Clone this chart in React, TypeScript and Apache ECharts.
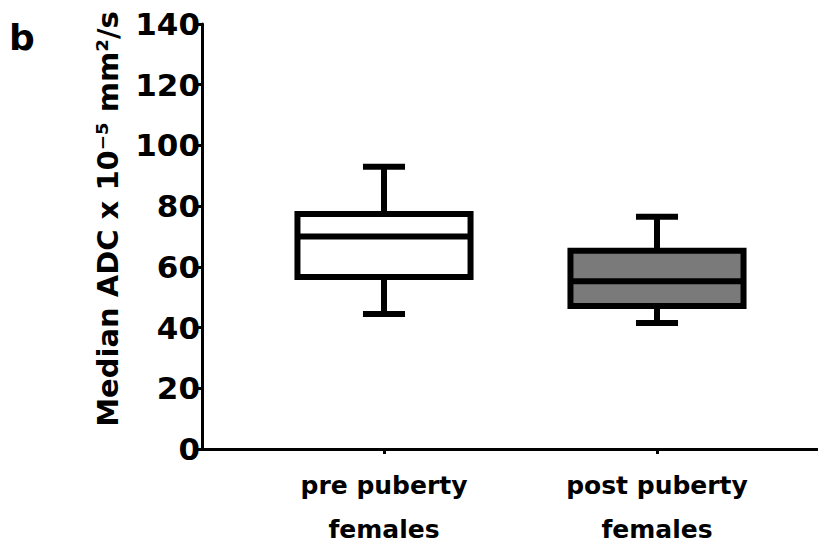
import React, { useEffect, useRef } from "react";
import * as echarts from "echarts";

// ---- data ----
const categories = ["pre puberty\nfemales", "post puberty\nfemales"];
const whiskerMin = [44.5, 41.5];
const quartile1 = [56.7, 47.1];
const medians = [70.0, 55.3];
const quartile3 = [77.4, 65.3];
const whiskerMax = [93.0, 76.5];
const yTicks = [0, 20, 40, 60, 80, 100, 120, 140];

// ---- styles ----
const BOX_FILLS = ["#ffffff", "#7a7a7a"];
const TICK_FONT = "DejaVu Sans";

export default function App() {
  const ref = useRef<HTMLDivElement>(null);

  useEffect(() => {
    if (!ref.current) return;
    const chart = echarts.init(ref.current, null, { renderer: "svg" });

    const boxData = categories.map((_, i) => [
      i,
      whiskerMin[i],
      quartile1[i],
      medians[i],
      quartile3[i],
      whiskerMax[i],
    ]);

    const yMin = yTicks[0];
    const yMax = yTicks[yTicks.length - 1];
    const yStep = yTicks[1] - yTicks[0];

    const option: any = {
      animation: false,
      backgroundColor: "#ffffff",
      grid: [
        { left: 247.5, right: 24.5, top: 24, bottom: 96, containLabel: false, outerBoundsMode: "none" },
        { left: 202, right: 0, top: 24, bottom: 96, containLabel: false, outerBoundsMode: "none" },
      ],
      xAxis: [
        {
          type: "category",
          gridIndex: 0,
          data: categories,
          boundaryGap: true,
          axisLine: { show: false },
          axisTick: {
            show: true,
            alignWithLabel: true,
            length: 5,
            lineStyle: { color: "#000", width: 3 },
          },
          axisLabel: {
            margin: 14,
            fontFamily: TICK_FONT,
            fontWeight: "bold",
            fontSize: 25,
            lineHeight: 44,
            color: "#000",
          },
          splitLine: { show: false },
        },
        {
          type: "value",
          gridIndex: 1,
          min: 0,
          max: 1,
          axisLine: { show: true, onZero: false, lineStyle: { color: "#000", width: 3 } },
          axisTick: { show: false },
          axisLabel: { show: false },
          splitLine: { show: false },
        },
      ],
      yAxis: [
        {
          type: "value",
          gridIndex: 0,
          min: yMin,
          max: yMax,
          interval: yStep,
          show: false,
        },
        {
          type: "value",
          gridIndex: 1,
          min: yMin,
          max: yMax,
          interval: yStep,
          axisLine: { show: true, lineStyle: { color: "#000", width: 3 } },
          axisTick: { show: true, length: 8, lineStyle: { color: "#000", width: 3 } },
          axisLabel: {
            margin: 2,
            fontFamily: TICK_FONT,
            fontWeight: "bold",
            fontSize: 31,
            color: "#000",
          },
          splitLine: { show: false },
          name: "Median ADC x 10⁻⁵ mm²/s",
          nameLocation: "middle",
          nameGap: 80,
          nameTextStyle: {
            fontFamily: TICK_FONT,
            fontWeight: "bold",
            fontSize: 29,
            color: "#000",
            padding: [0, 0, 0, 35],
          },
        },
      ],
      graphic: [
        {
          type: "text",
          left: 9,
          top: 19,
          style: {
            text: "b",
            fontFamily: TICK_FONT,
            fontWeight: "bold",
            fontSize: 36,
            fill: "#000",
          },
        },
      ],
      series: [
        {
          type: "custom",
          xAxisIndex: 0,
          yAxisIndex: 0,
          encode: { x: 0, y: [1, 2, 3, 4, 5] },
          data: boxData,
          renderItem: (params: any, api: any) => {
            const idx = api.value(0);
            const lo = api.coord([idx, api.value(1)]);
            const q1 = api.coord([idx, api.value(2)]);
            const med = api.coord([idx, api.value(3)]);
            const q3 = api.coord([idx, api.value(4)]);
            const hi = api.coord([idx, api.value(5)]);
            const band = api.size([1, 0])[0];
            const bw = band * 0.634;
            const cw = band * 0.154;
            const cx = lo[0];
            const lw = 6;
            const stroke = { stroke: "#000", lineWidth: lw };
            return {
              type: "group",
              children: [
                { type: "line", shape: { x1: cx, y1: hi[1], x2: cx, y2: q3[1] }, style: stroke },
                { type: "line", shape: { x1: cx, y1: q1[1], x2: cx, y2: lo[1] }, style: stroke },
                { type: "line", shape: { x1: cx - cw / 2, y1: hi[1], x2: cx + cw / 2, y2: hi[1] }, style: stroke },
                { type: "line", shape: { x1: cx - cw / 2, y1: lo[1], x2: cx + cw / 2, y2: lo[1] }, style: stroke },
                {
                  type: "rect",
                  shape: { x: cx - bw / 2, y: q3[1], width: bw, height: q1[1] - q3[1] },
                  style: { fill: BOX_FILLS[idx % BOX_FILLS.length], stroke: "#000", lineWidth: lw },
                },
                { type: "line", shape: { x1: cx - bw / 2, y1: med[1], x2: cx + bw / 2, y2: med[1] }, style: stroke },
              ],
            };
          },
        },
      ],
    };

    chart.setOption(option);
    return () => chart.dispose();
  }, []);

  return (
    <div
      ref={ref}
      style={{ position: "fixed", left: 0, top: 0, width: 818, height: 545 }}
    />
  );
}
